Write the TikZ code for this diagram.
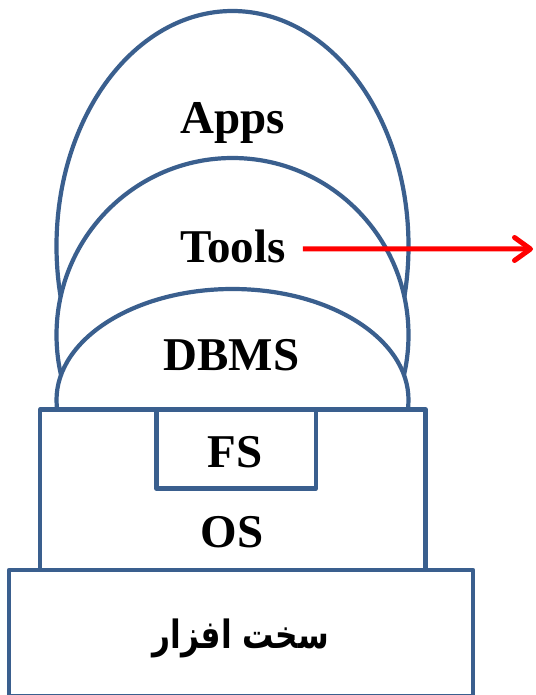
\documentclass[tikz,border=0pt]{standalone}
\usepackage{fontspec}
\setmainfont{Liberation Serif}
\newfontfamily\arabicfont[Script=Arabic]{DejaVu Sans}
\TeXXeTstate=1
\usetikzlibrary{shapes.geometric,arrows.meta}
\definecolor{layerblue}{HTML}{3A5F8E}
\definecolor{linkred}{HTML}{FF0000}
\tikzset{
  layer/.style={draw=layerblue, line width=4.2pt, fill=white, line join=round},
  dome/.style={layer, ellipse, inner sep=0pt, outer sep=0pt},
  lbl/.style={anchor=base, inner sep=0pt, font=\fontsize{47}{50}\selectfont\bfseries},
  link/.style={draw=linkred, line width=5pt,
    -{Straight Barb[length=16pt,width=23pt,round]}}
}
\begin{document}
\begin{tikzpicture}[x=1pt,y=-1pt]
\useasboundingbox (0,0) rectangle (535,695);
% stacked domes, each one hiding the lower part of the one behind it
\node[dome, minimum width=352pt, minimum height=470pt] (apps) at (232.5,246) {};
\node[dome, minimum width=352pt, minimum height=354pt] (tools) at (232.5,335) {};
\node[dome, minimum width=352pt, minimum height=222pt] (dbms) at (232.5,400) {};
% operating system with its file system, on top of the hardware
\draw[layer] (40,409.5) rectangle (425.5,570);
\draw[layer] (156.5,409.5) rectangle (316,488.5);
\draw[layer] (9,570) rectangle (473,696);
% labels
\node[lbl] (appslbl)  at (233,133.3) {Apps};
\node[lbl] (toolslbl) at (233,262.7) {Tools};
\node[lbl] (dbmslbl)  at (231.5,370) {DBMS};
\node[lbl] (fslbl)    at (235.3,467.7) {FS};
\node[lbl] (oslbl)    at (232,547.7) {OS};
\node[anchor=base, inner sep=0pt, font=\fontsize{39}{44}\selectfont\arabicfont\bfseries] (hwlbl) at (241,648)
  {\scalebox{0.8}[1]{\beginR سخت افزار\endR}};
% pointer leaving the tools layer
\coordinate (tip) at (533,249);
\draw[link] ([shift={(17,2.3)}]toolslbl.east) -- (tip);
\end{tikzpicture}
\end{document}
